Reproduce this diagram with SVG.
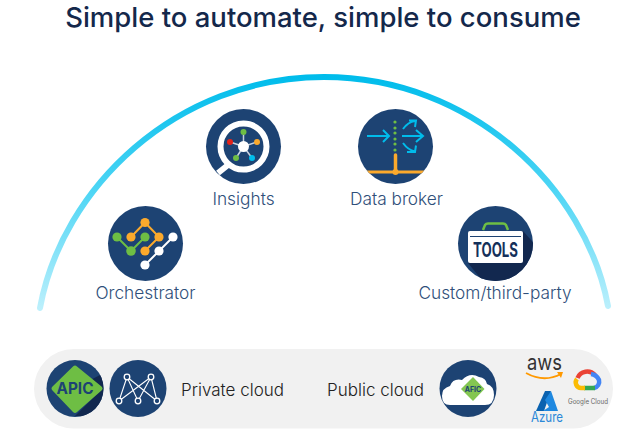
<svg xmlns="http://www.w3.org/2000/svg" width="640" height="447" viewBox="0 0 640 447">
<style>
text{font-family:"Inter","Liberation Sans",sans-serif}
.lbl{font-size:17.300px;font-weight:300;fill:#2f4f7a;text-anchor:middle}
.dark{font-size:17px;font-weight:300;fill:#222;text-anchor:middle}
.disc{fill:#1d4373}
.w{fill:#fff}
.o{fill:#fba92c}
.g{fill:#6ebe44}
.flow{fill:none;stroke:#00bceb;stroke-width:2}
</style>
<defs>
<linearGradient id="arcFade" gradientUnits="userSpaceOnUse" x1="0" y1="76" x2="0" y2="310">
<stop offset="0" stop-color="#00bceb"/><stop offset="0.5" stop-color="#4fd6f5"/><stop offset="1" stop-color="#bdf0fc"/>
</linearGradient>
<clipPath id="toolsDisc"><circle cx="495.500" cy="243.500" r="37.500"/></clipPath>
<clipPath id="brokerDisc"><circle cx="395.500" cy="146.500" r="37.500"/></clipPath>
<clipPath id="apicDisc"><circle cx="75" cy="388.500" r="28.500"/></clipPath>
</defs>
<rect width="640" height="447" fill="#fff"/>
<text x="323" y="27" text-anchor="middle" font-size="27.500" font-weight="500" fill="#14284b">Simple to automate, simple to consume</text>
<g id="connectors">
<path d="M40 308C62 188 176 77 324 77C472 77 586 188 608 306" fill="none" stroke="url(#arcFade)" stroke-width="6" stroke-linecap="round"/>
</g>
<g id="insights">
<circle class="disc" cx="243.500" cy="146.500" r="37.500"/>
<circle cx="243.500" cy="146.500" r="23" fill="none" stroke="#fff" stroke-width="6"/>
<path d="M228 165L218 173" stroke="#fff" stroke-width="6"/>
<path d="M243.500 146.500V132M243.500 146.500L230 142M243.500 146.500L257 142M243.500 146.500L236 158M243.500 146.500L252 158" stroke="#c7d2e0" stroke-width="1.500"/>
<circle class="w" cx="243.500" cy="146.500" r="5.500"/>
<circle class="g" cx="243.500" cy="132" r="3"/><circle cx="230" cy="142" r="3" fill="#e2231a"/><circle class="o" cx="257" cy="142" r="3"/><circle class="g" cx="236" cy="158" r="3"/><circle cx="252" cy="158" r="3" fill="#00bceb"/>
<text class="lbl" x="243.500" y="205">Insights</text>
</g>
<g id="data-broker">
<circle class="disc" cx="395.500" cy="146.500" r="37.500"/>
<path class="flow" d="M367 136H389M383 130L389 136L383 142M402 136H423M416 130L423 136L416 142M403 129Q408 122 415 121M409 120.500L416 120.500L415 127M403 143Q408 150 415 151.500M407 152L415 152L416 145.500"/>
<g class="g"><circle cx="395" cy="122" r="1.600"/><circle cx="395" cy="128" r="1.600"/><circle cx="395" cy="133" r="1.600"/><circle cx="395" cy="139" r="1.600"/><circle cx="395" cy="144" r="1.600"/><circle cx="395" cy="150" r="1.600"/></g>
<path d="M395.500 155V172" stroke="#fba92c" stroke-width="3.500" stroke-linecap="round"/>
<path d="M360 172H430" stroke="#fba92c" stroke-width="3" clip-path="url(#brokerDisc)"/>
<circle class="o" cx="395.500" cy="172" r="3"/>
<text class="lbl" x="396.500" y="205">Data broker</text>
</g>
<g id="orchestrator">
<circle class="disc" cx="145.500" cy="243.500" r="37.500"/>
<path d="M131 237L145 222.500L159 237L145 251" fill="none" stroke="#fba92c" stroke-width="2"/>
<path d="M117 237L131 251L145 237" fill="none" stroke="#6ebe44" stroke-width="2"/>
<path d="M145 265L173 237" stroke="#fff" stroke-width="2"/>
<circle class="o" cx="145" cy="222.500" r="4.600"/><circle class="o" cx="131" cy="237" r="4.600"/><circle class="o" cx="159" cy="237" r="4.600"/><circle class="o" cx="145" cy="251" r="4.600"/>
<circle class="g" cx="117" cy="237" r="4.600"/><circle class="g" cx="131" cy="251" r="4.800"/><circle class="g" cx="145" cy="237" r="4.600"/>
<circle class="w" cx="173" cy="237" r="4.600"/><circle class="w" cx="159" cy="251" r="4.600"/><circle class="w" cx="145" cy="265" r="4.600"/>
<text class="lbl" x="145.500" y="299">Orchestrator</text>
</g>
<g id="custom-third-party">
<circle class="disc" cx="495.500" cy="243.500" r="37.500"/>
<path d="M523 231L540 250V290H490L468 263Z" fill="#12284f" clip-path="url(#toolsDisc)"/>
<path d="M483 230L485 225Q486 223.500 488 223.500H503Q505 223.500 506 225L508 230" fill="none" stroke="#6ebe44" stroke-width="2.500"/>
<rect class="w" x="468" y="231" width="55" height="32" rx="2"/>
<path d="M470 236.500H521" stroke="#1d4373" stroke-width="1"/>
<text x="495.500" y="257" text-anchor="middle" font-size="19.500" font-weight="700" fill="#14305a" font-family="Liberation Sans" textLength="45" lengthAdjust="spacingAndGlyphs">TOOLS</text>
<text class="lbl" x="495" y="299">Custom/third-party</text>
</g>
<g id="cloud-bar">
<rect x="34" y="349" width="579" height="79.500" rx="39.700" fill="#f1f1f1"/>
</g>
<g id="apic">
<circle class="disc" cx="75" cy="388.500" r="28.500"/>
<path d="M75 388L103 388L75 416H110V370Z" fill="#12284f" clip-path="url(#apicDisc)"/>
<path d="M73 366.500Q75 364.500 77 366.500L101.500 386.500Q103.500 388.500 101.500 390.500L77 412Q75 414 73 412L52.500 390.500Q50.500 388.500 52.500 386.500Z" class="g"/>
<text x="75" y="394" text-anchor="middle" font-size="15.500" font-weight="700" fill="#1d4373" font-family="DejaVu Sans Mono" textLength="37" lengthAdjust="spacingAndGlyphs">APIC</text>
</g>
<g id="private-cloud">
<circle class="disc" cx="138" cy="388.500" r="28.500"/>
<path d="M127 377L119 401M127 377L138 401M127 377L157 401M151 377L119 401M151 377L138 401M151 377L157 401" fill="none" stroke="#fff" stroke-width="1.100"/>
<g fill="#1d4373" stroke="#fff" stroke-width="1.300"><circle cx="119" cy="401" r="2.800"/><circle cx="138" cy="401" r="2.800"/><circle cx="157" cy="401" r="2.800"/><circle cx="127" cy="377" r="2.800"/><circle cx="151" cy="377" r="2.800"/></g>
<text class="dark" x="232.500" y="396">Private cloud</text>
</g>
<g id="public-cloud">
<text class="dark" x="375.500" y="396">Public cloud</text>
<circle class="disc" cx="468" cy="388.500" r="28.500"/>
<path d="M450 405Q442 405 442 396Q442 388 450 386Q453 378 462 380Q470 372 479 377Q486 378 487 384Q494 386 494 395Q494 405 485 405Z" class="w"/>
<path d="M473 377L484.500 389L473 401L461 389Z" fill="#84c651"/>
<text x="473" y="391.500" text-anchor="middle" font-size="7" font-weight="700" fill="#1d4373" font-family="Liberation Sans">AFIC</text>
</g>
<g id="aws">
<text x="544.500" y="370" text-anchor="middle" font-size="22" fill="#333" font-family="Liberation Sans" textLength="35" lengthAdjust="spacingAndGlyphs">aws</text>
<path d="M526 373Q544 383 561 374" fill="none" stroke="#f90" stroke-width="1.800"/>
<path d="M557 372L563 372L561 378Z" fill="#f90"/>
</g>
<g id="azure">
<path d="M545 391H551L544 411H536Z" fill="#0a62b0"/>
<path d="M551 391L558 411H543L549 407L545 400Z" fill="#1e88e0"/>
<text x="547" y="422" text-anchor="middle" font-size="14" fill="#2b88d8" font-family="Liberation Sans" textLength="32" lengthAdjust="spacingAndGlyphs">Azure</text>
</g>
<g id="google-cloud">
<path d="M577.500 378A10.500 10.500 0 0 1 595 375" fill="none" stroke="#ea4335" stroke-width="4.500"/>
<path d="M591 374A10 10 0 0 1 599 380A6.500 6.500 0 0 1 594 388" fill="none" stroke="#4285f4" stroke-width="4.500"/>
<path d="M595 388H584" stroke="#34a853" stroke-width="4.500"/>
<path d="M585 388H581A5.500 5.500 0 0 1 577 379" fill="none" stroke="#fbbc04" stroke-width="4.500"/>
<text x="588" y="404" text-anchor="middle" font-size="7" fill="#666" font-family="Liberation Sans" textLength="40" lengthAdjust="spacingAndGlyphs">Google Cloud</text>
</g>
</svg>
